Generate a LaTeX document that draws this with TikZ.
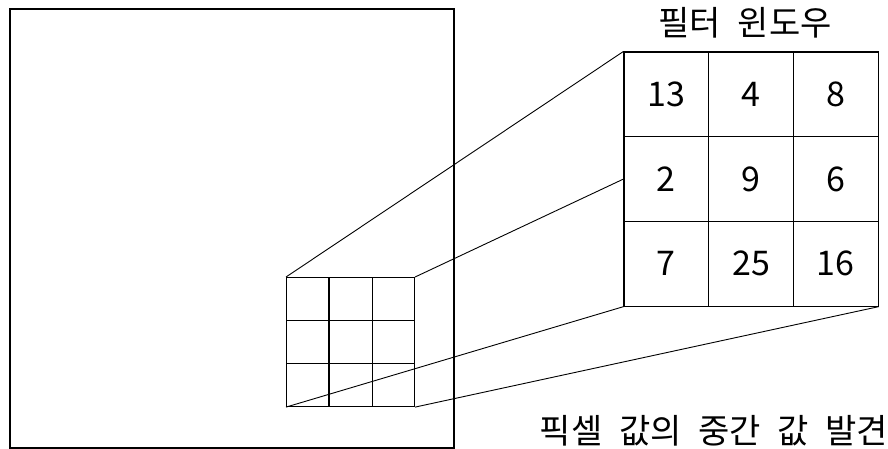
\documentclass[tikz,border=0pt]{standalone}
\usepackage{fontspec}
\newfontfamily\kor[WordSpace=2.2]{Noto Sans CJK KR}
\usetikzlibrary{positioning,calc}
\tikzset{
  cell/.style={draw, line width=1.1pt, minimum size=84.7pt, inner sep=0pt, font=\kor\fontsize{34}{36}\selectfont},
  label/.style={font=\kor\fontsize{34}{38}\selectfont, inner sep=0pt}
}
\begin{document}
\begin{tikzpicture}[x=1pt, y=-1pt, line width=0.9pt]
  \useasboundingbox (0,0) rectangle (888,449);
  % image frame
  \draw[line width=1.3pt] (10,9) rectangle (454,448);
  % 3x3 window on the image
  \node[draw, line width=1.1pt, minimum width=128pt, minimum height=129pt, inner sep=0pt, anchor=north west] (win) at (286,277) {};
  \foreach \f in {1,2} {
    \draw[line width=1.1pt] ($(win.north west)!\f/3!(win.north east)$) -- ($(win.south west)!\f/3!(win.south east)$);
    \draw[line width=1.1pt] ($(win.north west)!\f/3!(win.south west)$) -- ($(win.north east)!\f/3!(win.south east)$);
  }
  % enlarged filter window
  \foreach \v [count=\k from 0] in {13,4,8,2,9,6,7,25,16} {
    \pgfmathtruncatemacro\col{mod(\k,3)}
    \pgfmathtruncatemacro\row{div(\k,3)}
    \node[cell] (c\k) at ({624+84.7*\col+42.35},{52+84.7*\row+42.35}) {\v};
  }
  \node[label] (title) at (745,23) {필터 윈도우};
  \node[label] (note) at (714,431) {픽셀 값의 중간 값 발견};
  % projection lines
  \draw (win.north west) -- (c0.north west);
  \draw (win.north east) -- (c3.west);
  \draw (win.south west) -- (c6.south west);
  \draw (win.south east) -- (c8.south east);
\end{tikzpicture}
\end{document}
